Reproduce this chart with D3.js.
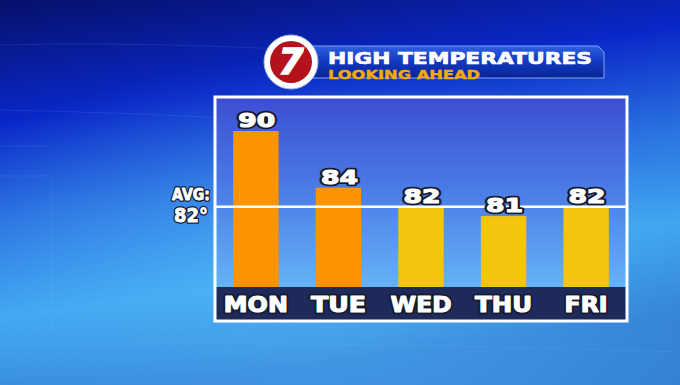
<!DOCTYPE html>
<html>
<head>
<meta charset="utf-8">
<script src="https://cdn.jsdelivr.net/npm/d3@7"></script>
<style>
  html, body { margin: 0; padding: 0; overflow: hidden; background: #0b2fb8; }
  svg { display: block; }
</style>
</head>
<body>
<script>
// data
const days = ["MON", "TUE", "WED", "THU", "FRI"];
const highs = [90, 84, 82, 81, 82];
const barColors = ["#ff9400", "#ff9400", "#f4c40f", "#f4c40f", "#f4c40f"];
const avgTemp = 82;
const title = "HIGH TEMPERATURES";
const subtitle = "LOOKING AHEAD";

const width = 680, height = 385;
const frame = { left: 215, right: 627, top: 97, bottom: 321 };
const bandTop = 287;

const svg = d3.select("body").append("svg")
  .attr("width", width)
  .attr("height", height);

const defs = svg.append("defs");

// background gradient
const bg = defs.append("linearGradient").attr("id", "bg")
  .attr("x1", 0).attr("y1", 0).attr("x2", 0.25).attr("y2", 1);
bg.append("stop").attr("offset", "0%").attr("stop-color", "#06106a");
bg.append("stop").attr("offset", "30%").attr("stop-color", "#0a28c8");
bg.append("stop").attr("offset", "55%").attr("stop-color", "#2a72e0");
bg.append("stop").attr("offset", "78%").attr("stop-color", "#40a6f0");
bg.append("stop").attr("offset", "100%").attr("stop-color", "#3482d6");

const glow = defs.append("radialGradient").attr("id", "glow")
  .attr("cx", 0.45).attr("cy", 0.75).attr("r", 0.6);
glow.append("stop").attr("offset", "0%").attr("stop-color", "#5ec4ff").attr("stop-opacity", 0.45);
glow.append("stop").attr("offset", "100%").attr("stop-color", "#5ec4ff").attr("stop-opacity", 0);

// chart interior gradient
const inner = defs.append("linearGradient").attr("id", "inner")
  .attr("x1", 0).attr("y1", 0).attr("x2", 0).attr("y2", 1);
inner.append("stop").attr("offset", "0%").attr("stop-color", "#3c4ed2");
inner.append("stop").attr("offset", "40%").attr("stop-color", "#4a7ae6");
inner.append("stop").attr("offset", "100%").attr("stop-color", "#6ec6fa");

// banner gradient
const ban = defs.append("linearGradient").attr("id", "ban")
  .attr("x1", 0).attr("y1", 0).attr("x2", 0).attr("y2", 1);
ban.append("stop").attr("offset", "0%").attr("stop-color", "#2f5fe0");
ban.append("stop").attr("offset", "50%").attr("stop-color", "#1238c0");
ban.append("stop").attr("offset", "100%").attr("stop-color", "#0a2494");

svg.append("rect").attr("width", width).attr("height", height).attr("fill", "url(#bg)");
svg.append("rect").attr("width", width).attr("height", height).attr("fill", "url(#glow)");

// faint background lines
const deco = svg.append("g").attr("stroke", "#8fc4ff").attr("stroke-opacity", 0.12).attr("fill", "none");
deco.append("path").attr("d", "M0,45 Q200,40 460,60");
deco.append("path").attr("d", "M0,110 Q120,112 260,120");
deco.append("path").attr("d", "M0,146 L50,146");
deco.append("path").attr("d", "M0,176 L52,176 L52,330");
deco.append("path").attr("d", "M0,345 Q300,340 680,352");

// scales
const x = d3.scaleBand()
  .domain(days)
  .range([frame.left, frame.right])
  .paddingInner(0.45)
  .paddingOuter(0.22);

const y = d3.scaleLinear()
  .domain([73.5, 90])
  .range([bandTop, 131]);

// chart interior
svg.append("rect")
  .attr("x", frame.left).attr("y", frame.top)
  .attr("width", frame.right - frame.left)
  .attr("height", frame.bottom - frame.top)
  .attr("fill", "url(#inner)");

// bars
svg.append("g").selectAll("rect")
  .data(highs)
  .join("rect")
  .attr("x", (d, i) => x(days[i]))
  .attr("y", d => y(d))
  .attr("width", x.bandwidth())
  .attr("height", d => bandTop - y(d))
  .attr("fill", (d, i) => barColors[i]);

// day label band
svg.append("rect")
  .attr("x", frame.left).attr("y", bandTop)
  .attr("width", frame.right - frame.left)
  .attr("height", frame.bottom - bandTop)
  .attr("fill", "#1d2a5a");

// average line
svg.append("line")
  .attr("x1", frame.left).attr("x2", frame.right)
  .attr("y1", y(avgTemp)).attr("y2", y(avgTemp))
  .attr("stroke", "#ffffff")
  .attr("stroke-width", 2.5);

// frame border
svg.append("rect")
  .attr("x", frame.left).attr("y", frame.top)
  .attr("width", frame.right - frame.left)
  .attr("height", frame.bottom - frame.top)
  .attr("fill", "none")
  .attr("stroke", "#ffffff")
  .attr("stroke-width", 3);

// heavy white text with dark outline: dark copy underneath, thickened white on top
function heavyText(g, data, opts) {
  const layers = [
    { stroke: "#161a2c", width: opts.outline || 4.5, fill: "#161a2c" },
    { stroke: "#ffffff", width: opts.thicken || 1.1, fill: "#ffffff" }
  ];
  layers.forEach(l => {
    g.append("g").selectAll("text")
      .data(data)
      .join("text")
      .attr("x", opts.x)
      .attr("y", opts.y)
      .attr("text-anchor", opts.anchor || "middle")
      .attr("fill", l.fill)
      .attr("stroke", l.stroke)
      .attr("stroke-width", l.width)
      .attr("stroke-linejoin", "round")
      .attr("textLength", opts.len)
      .attr("lengthAdjust", "spacingAndGlyphs")
      .style("font-family", "'DejaVu Sans', sans-serif")
      .style("font-weight", "bold")
      .style("font-size", opts.size)
      .text(opts.text);
  });
}

// value labels
heavyText(svg.append("g"), highs, {
  x: (d, i) => x(days[i]) + x.bandwidth() / 2 + 1,
  y: d => y(d) - 4,
  size: "19px",
  len: 37,
  text: d => d
});

// day labels
const dayWidths = { MON: 64, TUE: 55, WED: 61, THU: 57, FRI: 43 };
heavyText(svg.append("g"), days, {
  x: d => x(d) + x.bandwidth() / 2,
  y: 312,
  size: "21px",
  len: d => dayWidths[d],
  text: d => d
});

// avg label
heavyText(svg.append("g"), ["AVG:"], {
  x: 210, y: 200, anchor: "end", size: "16px", len: 38, outline: 3.5, thicken: 0.8, text: d => d
});
heavyText(svg.append("g"), [avgTemp + "°"], {
  x: 208, y: 222, anchor: "end", size: "19px", len: 34, outline: 3.5, thicken: 0.8, text: d => d
});

// title banner
svg.append("path")
  .attr("d", "M300,46 L598,46 L604,52 L604,78 L300,78 Z")
  .attr("fill", "url(#ban)")
  .attr("stroke", "#7fa4f0")
  .attr("stroke-width", 1);

svg.append("text")
  .attr("x", 328).attr("y", 64)
  .attr("fill", "#ffffff")
  .attr("stroke", "#ffffff")
  .attr("stroke-width", 0.6)
  .style("font-family", "'DejaVu Sans', sans-serif")
  .style("font-weight", "bold")
  .style("font-size", "15px")
  .attr("textLength", 264)
  .attr("lengthAdjust", "spacingAndGlyphs")
  .text(title);

svg.append("text")
  .attr("x", 328).attr("y", 78.5)
  .attr("fill", "#f6a90a")
  .attr("stroke", "#f6a90a")
  .attr("stroke-width", 0.4)
  .style("font-family", "'DejaVu Sans', sans-serif")
  .style("font-weight", "bold")
  .style("font-size", "12px")
  .attr("textLength", 152)
  .attr("lengthAdjust", "spacingAndGlyphs")
  .text(subtitle);

// logo
const logo = svg.append("g").attr("transform", "translate(291,62)");
logo.append("circle").attr("r", 27).attr("fill", "#ffffff").attr("stroke", "#9fb8e8").attr("stroke-width", 1);
logo.append("circle").attr("r", 21).attr("fill", "#b3121c");
logo.append("text")
  .attr("y", 12)
  .attr("text-anchor", "middle")
  .attr("fill", "#ffffff")
  .attr("stroke", "#ffffff")
  .attr("stroke-width", 1.5)
  .style("font-family", "'DejaVu Sans', sans-serif")
  .style("font-weight", "bold")
  .style("font-style", "italic")
  .style("font-size", "36px")
  .text("7");
</script>
</body>
</html>
